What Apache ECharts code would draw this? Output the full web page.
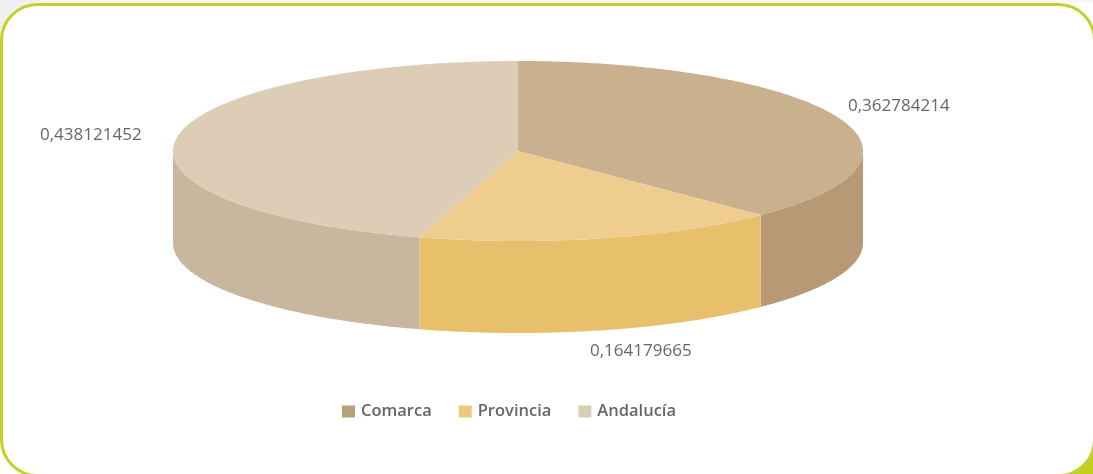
<!DOCTYPE html>
<html>
<head>
<meta charset="utf-8">
<style>
html,body{margin:0;padding:0;background:#fff;overflow:hidden}
#c{width:1093px;height:474px;filter:blur(0.5px)}
</style>
<script src="https://cdn.jsdelivr.net/npm/echarts@6/dist/echarts.min.js"></script>
</head>
<body>
<div id="c"></div>
<script>
const categories = ['Comarca', 'Provincia', 'Andalucía'];
const values = [0.362784214, 0.164179665, 0.438121452];
const valueLabels = ['0,362784214', '0,164179665', '0,438121452'];
const topColors = ['#c9b08e', '#efcd8f', '#ddcdb6'];
const sideColors = ['#b79a75', '#e8bf6b', '#c8b79e'];
const legendColors = ['#b9a177', '#ecc97c', '#d6cfb8'];
const labelPos = [[848, 106], [590, 351], [40, 135]];

const CX = 518, CY = 151, RX = 345, RY = 90, DEPTH = 92;
const total = values.reduce((a, b) => a + b, 0);

function pt(t, dy) {
  return [CX + RX * Math.sin(t), CY - RY * Math.cos(t) + (dy || 0)];
}
function arc(a, b, dy) {
  const out = [], n = Math.max(2, Math.ceil(Math.abs(b - a) / 0.01));
  for (let i = 0; i <= n; i++) out.push(pt(a + (b - a) * i / n, dy));
  return out;
}

function sliceRenderer(idx) {
  return function (params, api) {
    const v = api.value(0);
    let start = 0;
    for (let i = 0; i < idx; i++) start += values[i] / total * Math.PI * 2;
    const end = start + v / total * Math.PI * 2;
    const children = [];
    const s = Math.max(start, Math.PI / 2), e = Math.min(end, Math.PI * 1.5);
    if (e > s) {
      children.push({
        type: 'polygon',
        shape: { points: arc(s, e, 0).concat(arc(e, s, DEPTH)) },
        style: { fill: sideColors[idx] }
      });
    }
    children.push({
      type: 'polygon',
      shape: { points: [[CX, CY]].concat(arc(start, end, 0)) },
      style: { fill: topColors[idx] }
    });
    children.push({
      type: 'text',
      style: {
        x: labelPos[idx][0], y: labelPos[idx][1],
        text: valueLabels[idx],
        fill: '#666666',
        font: '17px "Open Sans"',
        textVerticalAlign: 'middle'
      }
    });
    return { type: 'group', children };
  };
}

const chart = echarts.init(document.getElementById('c'), null, { renderer: 'canvas' });
chart.setOption({
  animation: false,
  backgroundColor: '#ffffff',
  graphic: [
    { type: 'rect', z: -10, shape: { x: 1040, y: 420, width: 53, height: 54 }, style: { fill: '#c2cf1e' } },
    { type: 'rect', z: -10, shape: { x: 0, y: 0, width: 40, height: 40 }, style: { fill: '#f0f0f0' } },
    { type: 'rect', z: -10, shape: { x: 40, y: 0, width: 1053, height: 3 }, style: { fill: '#f8f8f8' } },
    { type: 'rect', z: -9, shape: { x: 1.5, y: 4.5, width: 1093, height: 471, r: 36 },
      style: { fill: '#ffffff', stroke: '#c4d02a', lineWidth: 3 } }
  ],
  legend: {
    data: categories,
    left: 337,
    top: 398,
    icon: 'rect',
    itemWidth: 13,
    itemHeight: 12,
    itemGap: 27,
    textStyle: { color: '#666666', fontSize: 16.5, fontFamily: 'Open Sans', fontWeight: 600, padding: [0, 0, 0, 1] }
  },
  series: categories.map((name, i) => ({
    type: 'custom',
    name,
    coordinateSystem: 'none',
    itemStyle: { color: legendColors[i] },
    renderItem: sliceRenderer(i),
    data: [[values[i]]],
    silent: true
  }))
});
</script>
</body>
</html>
